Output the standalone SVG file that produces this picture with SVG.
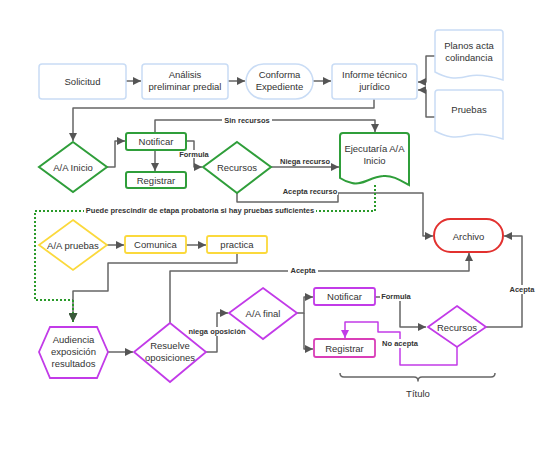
<svg xmlns="http://www.w3.org/2000/svg" width="538" height="473" viewBox="0 0 538 473">
<defs>
<marker id="ah" viewBox="0 0 10 10" refX="10" refY="5" markerWidth="8" markerHeight="8" markerUnits="userSpaceOnUse" orient="auto"><path d="M0,0 L10,5 L0,10 z" fill="#555"/></marker>
<marker id="ahg" viewBox="0 0 10 10" refX="10" refY="5" markerWidth="9" markerHeight="9" markerUnits="userSpaceOnUse" orient="auto"><path d="M0,0 L10,5 L0,10 z" fill="#3a5a3a"/></marker>
<marker id="ahp" viewBox="0 0 10 10" refX="10" refY="5" markerWidth="8" markerHeight="8" markerUnits="userSpaceOnUse" orient="auto"><path d="M0,0 L10,5 L0,10 z" fill="#c23be8"/></marker>
</defs>
<style>
text{font-family:"Liberation Sans",Arial,sans-serif;fill:#333;}
.t{font-size:9.5px;text-anchor:middle;}
.l{font-size:7.5px;font-weight:bold;text-anchor:middle;}
.blue{fill:#fff;stroke:#c9dcf5;stroke-width:1.5;}
.green{fill:#fff;stroke:#2f9e3a;stroke-width:2;}
.yellow{fill:#fff;stroke:#fbd93c;stroke-width:1.8;}
.purple{fill:#fff;stroke:#c23be8;stroke-width:1.8;}
.pink{fill:#fff;stroke:#d93fb8;stroke-width:1.8;}
.red{fill:#fff;stroke:#e2312f;stroke-width:2;}
.c{fill:none;stroke:#666;stroke-width:1.5;stroke-linejoin:round;marker-end:url(#ah);}
.cn{fill:none;stroke:#666;stroke-width:1.5;stroke-linejoin:round;}
.bg{fill:#fff;}
</style>
<rect width="538" height="473" fill="#fff"/>
<g id="connectors">
<path class="c" d="M126,81 H141"/>
<path class="c" d="M228,81 H245"/>
<path class="c" d="M313,81 H331"/>
<path class="c" d="M435,56 H426 V82 H418"/>
<path class="c" d="M435,117 H426 V90 H418"/>
<path class="c" d="M374,99 V108 H73 V141"/>
<path class="c" d="M107,167 H115 V141 H125"/>
<path class="c" d="M155,150 V171"/>
<path class="c" d="M186,141 H194 V167 H202"/>
<path class="c" d="M155,133 V120 H375 V132"/>
<path class="c" d="M271,167 H339"/>
<path class="c" d="M237,193 V202 H338 V193 H423 V236 H433"/>
<path d="M375,185 V211 H35 V300 H73" fill="none" stroke="#2a9a2a" stroke-width="2" stroke-dasharray="2,2"/>
<path class="c" d="M107,245 H124"/>
<path class="c" d="M186,245 H206"/>
<path class="c" d="M237,253 V263 H108 V291 H73 V322"/>
<path d="M73,300 V322" fill="none" stroke="#2a9a2a" stroke-width="2" stroke-dasharray="2,2" marker-end="url(#ahg)"/>
<path class="c" d="M108,352 H133"/>
<path class="c" d="M170,323 V271 H469 V253"/>
<path class="c" d="M206,352 H217 V313 H228"/>
<path class="c" d="M297,313 H304 V297 H313"/>
<path class="c" d="M304,313 V349 H313"/>
<path class="c" d="M375,297 H400 V327 H426"/>
<path class="c" d="M486,327 H522 V236 H504"/>
<path d="M457,347 V365 H400 V332 H378 V322 H345 V338" fill="none" stroke="#c23be8" stroke-width="1.5" stroke-linejoin="round" marker-end="url(#ahp)"/>
<path class="cn" d="M340,373 Q340,377 344,377 H414 Q418,377 418,381 Q418,377 422,377 H491 Q495,377 495,373"/>
<rect class="bg" x="222" y="116" width="50" height="8"/>
<text class="l" x="247" y="123">Sin recursos</text>
<rect class="bg" x="177" y="150" width="34" height="8"/>
<text class="l" x="194" y="157">Formula</text>
<text class="l" x="305" y="164">Niega recurso</text>
<rect class="bg" x="281" y="187" width="57" height="8"/>
<text class="l" x="310" y="194">Acepta recurso</text>
<rect class="bg" x="84" y="206" width="232" height="9"/>
<text class="l" x="200" y="213">Puede prescindir de etapa probatoria si hay pruebas suficientes</text>
<rect class="bg" x="288" y="266" width="30" height="9"/>
<text class="l" x="303" y="273">Acepta</text>
<rect class="bg" x="187" y="327" width="60" height="9"/>
<text class="l" x="217" y="334">niega oposición</text>
<rect class="bg" x="380" y="292" width="32" height="9"/>
<text class="l" x="396" y="299">Formula</text>
<rect class="bg" x="508" y="285" width="30" height="9"/>
<text class="l" x="522" y="292">Acepta</text>
<rect class="bg" x="381" y="339" width="38" height="9"/>
<text class="l" x="400" y="346">No acepta</text>
<text class="t" x="418" y="397">Título</text>
</g>
<g id="solicitud"><rect class="blue" x="39" y="64" width="87" height="35" rx="3"/><text class="t" x="82.5" y="85">Solicitud</text></g>
<g id="analisis"><rect class="blue" x="142" y="64" width="86" height="35" rx="3"/><text class="t" x="185" y="78">Análisis</text><text class="t" x="185" y="90">preliminar predial</text></g>
<g id="conforma"><rect class="blue" x="246" y="64" width="67" height="35" rx="17.5"/><text class="t" x="279.5" y="78">Conforma</text><text class="t" x="279.5" y="90">Expediente</text></g>
<g id="informe"><rect class="blue" x="332" y="64" width="85" height="35" rx="3"/><text class="t" x="374.5" y="78">Informe técnico</text><text class="t" x="374.5" y="90">jurídico</text></g>
<g id="planos"><path class="blue" d="M435,33 Q435,30 438,30 H500 Q503,30 503,33 V80 C490,76 480,74 469,76 C455,80 446,78 435,72 Z"/><text class="t" x="469" y="49">Planos acta</text><text class="t" x="469" y="61">colindancia</text></g>
<g id="pruebas"><path class="blue" d="M435,93 Q435,90 438,90 H500 Q503,90 503,93 V139 C490,135 480,133 469,135 C455,139 446,137 435,131 Z"/><text class="t" x="469" y="113">Pruebas</text></g>
<g id="aa-inicio"><path class="green" d="M73,142 L107,167 L73,192 L39,167 Z"/><text class="t" x="73" y="170.5">A/A Inicio</text></g>
<g id="notificar1"><rect class="green" x="126" y="133" width="60" height="17" rx="2"/><text class="t" x="156" y="145">Notificar</text></g>
<g id="registrar1"><rect class="green" x="126" y="172" width="60" height="16" rx="2"/><text class="t" x="156" y="184">Registrar</text></g>
<g id="recursos1"><path class="green" d="M237,142 L271,167 L237,193 L203,167 Z"/><text class="t" x="237" y="170.5">Recursos</text></g>
<g id="ejecutaria"><path class="green" d="M340,136 Q340,133 343,133 H406 Q409,133 409,136 V185 C400,180 392,175 383,176 C370,177 362,186 352,183 C347,182 343,180 340,178 Z"/><text class="t" x="374.5" y="152">Ejecutaría A/A</text><text class="t" x="374.5" y="164">Inicio</text></g>
<g id="archivo"><rect class="red" x="434" y="219" width="69" height="33" rx="16.5"/><text class="t" x="468.5" y="239.5">Archivo</text></g>
<g id="aa-pruebas"><path class="yellow" d="M73,220 L107,245 L73,270 L39,245 Z"/><text class="t" x="73" y="248.5">A/A pruebas</text></g>
<g id="comunica"><rect class="yellow" x="125" y="236" width="61" height="17" rx="2"/><text class="t" x="155.5" y="248">Comunica</text></g>
<g id="practica"><rect class="yellow" x="207" y="236" width="60" height="17" rx="2"/><text class="t" x="237" y="248">practica</text></g>
<g id="audiencia"><path class="purple" d="M50,327 H97 L108,352 L97,378 H50 L39,352 Z"/><text class="t" x="73.5" y="343">Audiencia</text><text class="t" x="73.5" y="355">exposición</text><text class="t" x="73.5" y="367">resultados</text></g>
<g id="resuelve"><path class="purple" d="M170,323 L206,352 L170,382 L134,352 Z"/><text class="t" x="170" y="349">Resuelve</text><text class="t" x="170" y="361">oposiciones</text></g>
<g id="aa-final"><path class="purple" d="M263,288 L297,313 L263,339 L229,313 Z"/><text class="t" x="263" y="316.5">A/A final</text></g>
<g id="notificar2"><rect class="purple" x="314" y="288" width="61" height="17" rx="2"/><text class="t" x="344.5" y="300">Notificar</text></g>
<g id="registrar2"><rect class="pink" x="314" y="339" width="61" height="18" rx="2"/><text class="t" x="344.5" y="352">Registrar</text></g>
<g id="recursos2"><path class="purple" d="M457,306 L486,327 L457,347 L428,327 Z"/><text class="t" x="457" y="330.5">Recursos</text></g>
</svg>
